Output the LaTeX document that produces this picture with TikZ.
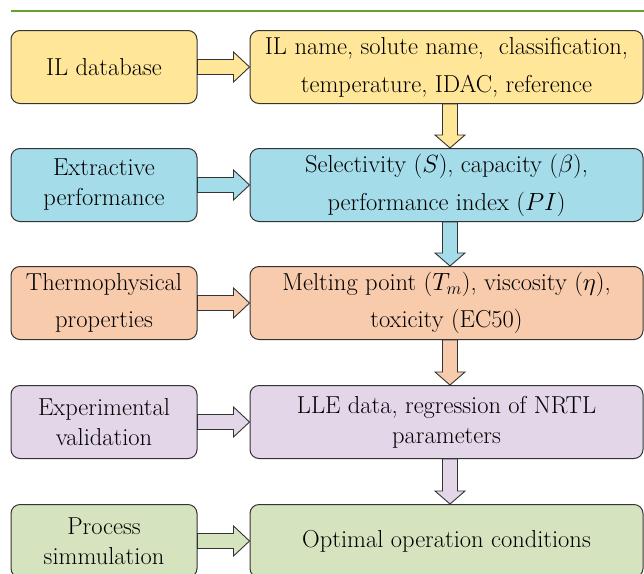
\documentclass[tikz,border=0pt]{standalone}
\usetikzlibrary{calc}

\definecolor{ilyellow}{HTML}{FFE699}
\definecolor{ilblue}{HTML}{A5DCE9}
\definecolor{ilorange}{HTML}{F8CBAD}
\definecolor{ilpurple}{HTML}{E2D6E8}
\definecolor{ilgreen}{HTML}{D5E4BF}
\definecolor{rulegreen}{HTML}{64A034}

% fat arrow from the east side of one box to the west side of the next
\newcommand{\harrow}[3]{%
  \draw[arrowline, fill=#3] let \p1=(#1.east), \p2=(#2.west) in
    (\x1,\y1+7.5pt) -- (\x2-16pt,\y1+7.5pt) -- (\x2-16pt,\y1+15pt) -- (\x2,\y1)
    -- (\x2-16pt,\y1-15pt) -- (\x2-16pt,\y1-7.5pt) -- (\x1,\y1-7.5pt) -- cycle;}
% fat arrow going down between two stacked boxes
\newcommand{\varrow}[3]{%
  \draw[arrowline, fill=#3] let \p1=([xshift=3.5pt]#1.south), \p2=(#2.north) in
    (\x1-7.5pt,\y1) -- (\x1-7.5pt,\y2+13pt) -- (\x1-15pt,\y2+13pt) -- (\x1,\y2)
    -- (\x1+15pt,\y2+13pt) -- (\x1+7.5pt,\y2+13pt) -- (\x1+7.5pt,\y1) -- cycle;}

\begin{document}
\begin{tikzpicture}[
        x=1pt, y=-1pt,
        box/.style={
            rectangle,
            rounded corners=9pt,
            draw=black!80,
            line width=1pt,
            minimum height=73pt,
            align=center,
            inner sep=2pt,
            font=\fontsize{24.5}{30}\selectfont
        },
        lbox/.style={box, minimum width=186pt},
        rbox/.style={box, minimum width=393pt},
        arrowline/.style={draw=black!80, line width=0.9pt, line join=miter},
        topline/.style={draw=rulegreen, line width=2.4pt}
    ]
    \clip (0,0) rectangle (644,573);
    \useasboundingbox (0,0) rectangle (644,573);

    % Rule on top
    \draw[topline] (11,11) -- (644,11);

    % Left column
    \node[lbox, fill=ilyellow] (db) at (104,67) {IL database};
    \node[lbox, fill=ilblue] (ext) at (104,185) {Extractive\\performance};
    \node[lbox, fill=ilorange] (thermo) at (104,303) {Thermophysical\\[7pt]properties};
    \node[lbox, fill=ilpurple] (exp) at (104,422) {Experimental\\validation};
    \node[lbox, fill=ilgreen] (proc) at (104,541) {Process\\simmulation};

    % Right column
    \node[rbox, fill=ilyellow] (dbR) at (446.5,67)
        {IL name, solute name,\ \ classification,\\[8pt]temperature, IDAC, reference};
    \node[rbox, fill=ilblue] (extR) at (446.5,185)
        {Selectivity ($S$), capacity ($\beta$),\\[8pt]performance index ($PI$)};
    \node[rbox, fill=ilorange] (thermoR) at (446.5,303)
        {Melting point ($T_m$), viscosity ($\eta$),\\[7pt]toxicity (EC50)};
    \node[rbox, fill=ilpurple] (expR) at (446.5,422)
        {LLE data, regression of NRTL\\parameters};
    \node[rbox, fill=ilgreen] (procR) at (446.5,541)
        {Optimal operation conditions};

    % Connections
    \harrow{db}{dbR}{ilyellow}
    \harrow{ext}{extR}{ilblue}
    \harrow{thermo}{thermoR}{ilorange}
    \harrow{exp}{expR}{ilpurple}
    \harrow{proc}{procR}{ilgreen}

    \varrow{dbR}{extR}{ilyellow}
    \varrow{extR}{thermoR}{ilblue}
    \varrow{thermoR}{expR}{ilorange}
    \varrow{expR}{procR}{ilpurple}

\end{tikzpicture}
\end{document}
